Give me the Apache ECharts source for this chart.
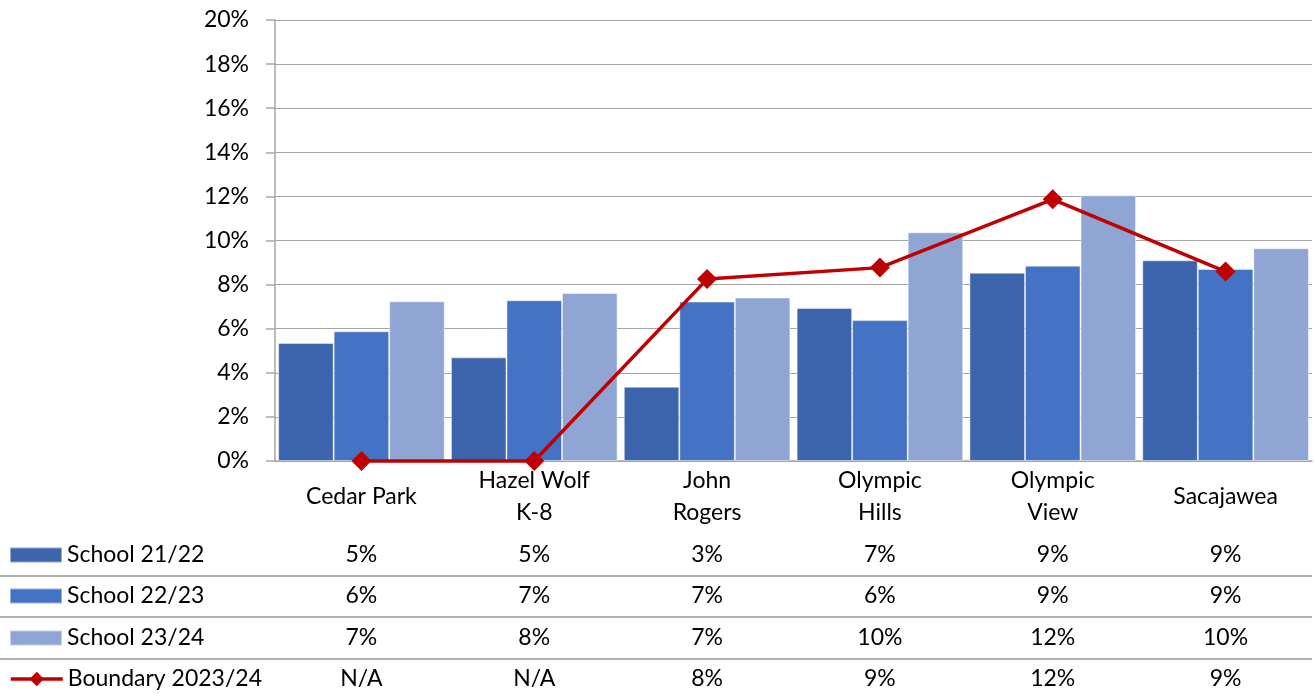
<!DOCTYPE html>
<html>
<head>
<meta charset="utf-8">
<script src="https://cdn.jsdelivr.net/npm/echarts@6/dist/echarts.min.js"></script>
<style>
html,body{margin:0;padding:0;background:#fff;}
#chart{width:1315px;height:694px;}
</style>
</head>
<body>
<div id="chart"></div>
<script>
const categories = ['Cedar Park', 'Hazel Wolf\nK-8', 'John\nRogers', 'Olympic\nHills', 'Olympic\nView', 'Sacajawea'];
const seriesNames = ['School 21/22', 'School 22/23', 'School 23/24', 'Boundary 2023/24'];
const school2122 = [5.35, 4.70, 3.37, 6.94, 8.54, 9.10];
const school2223 = [5.88, 7.29, 7.23, 6.39, 8.86, 8.71];
const school2324 = [7.24, 7.62, 7.41, 10.37, 12.05, 9.65];
const boundary2324 = [0, 0, 8.25, 8.77, 11.87, 8.59];
const tableRow2122 = ['5%', '5%', '3%', '7%', '9%', '9%'];
const tableRow2223 = ['6%', '7%', '7%', '6%', '9%', '9%'];
const tableRow2324 = ['7%', '8%', '7%', '10%', '12%', '10%'];
const tableRowBoundary = ['N/A', 'N/A', '8%', '9%', '12%', '9%'];
const yTicks = [0, 2, 4, 6, 8, 10, 12, 14, 16, 18, 20];

const FONT = 'Lato';
const FS = 23;
const colors = ['#3c64ac', '#4472c4', '#8fa5d4', '#c00000'];
const tableRows = [tableRow2122, tableRow2223, tableRow2324, tableRowBoundary];
const rowCenters = [555, 596, 638, 679];
const axisY = 461;

const chart = echarts.init(document.getElementById('chart'));

const tableAxes = tableRows.map((row, i) => ({
  type: 'category',
  gridIndex: 0,
  position: 'bottom',
  offset: rowCenters[i] - axisY,
  data: row,
  axisLine: {show: false},
  axisTick: {show: false},
  splitLine: {show: false},
  axisLabel: {interval: 0, margin: 0, verticalAlign: 'middle', fontFamily: FONT, fontSize: FS, color: '#000'}
}));

const legends = seriesNames.map((n, i) => {
  const isLine = i === 3;
  const h = isLine ? 18 : 15;
  return {
    data: isLine ? [n] : [{name: n, icon: 'rect'}],
    orient: 'horizontal',
    left: 9,
    top: rowCenters[i] - 12,
    padding: 0,
    itemWidth: 52,
    itemHeight: h,
    itemGap: 5,
    selectedMode: false,
    lineStyle: {width: 3.5},
    textStyle: {fontFamily: FONT, fontSize: FS, color: '#000', lineHeight: 24}
  };
});

const barSeries = [school2122, school2223, school2324].map((d, i) => ({
  name: seriesNames[i],
  type: 'bar',
  xAxisIndex: 0,
  data: d,
  barGap: '0%',
  barCategoryGap: '3.6%',
  itemStyle: {color: colors[i], borderColor: 'rgba(255,255,255,0.45)', borderWidth: 1},
  z: 2
}));

const option = {
  backgroundColor: '#fff',
  animation: false,
  textStyle: {fontFamily: FONT},
  legend: legends,
  grid: {left: 275, right: 3, top: 20, bottom: 694 - axisY, containLabel: false},
  xAxis: [{
    type: 'category',
    data: categories,
    axisLine: {show: true, lineStyle: {color: '#a6a6a6', width: 1.5}},
    axisTick: {show: false},
    axisLabel: {interval: 0, margin: 36, verticalAlign: 'middle', lineHeight: 32, fontFamily: FONT, fontSize: FS, color: '#000'}
  }].concat(tableAxes),
  yAxis: {
    type: 'value',
    min: yTicks[0],
    max: yTicks[yTicks.length - 1],
    interval: yTicks[1] - yTicks[0],
    axisLine: {show: true, lineStyle: {color: '#a6a6a6', width: 1.5}},
    axisTick: {show: true, length: 9, lineStyle: {color: '#a6a6a6', width: 1.5}},
    splitLine: {lineStyle: {color: '#a6a6a6', width: 1.2}},
    axisLabel: {formatter: '{value}%', margin: 26, fontFamily: FONT, fontSize: FS, color: '#000'}
  },
  graphic: [576, 617, 659].map(y => ({
    type: 'line',
    shape: {x1: 0, y1: y, x2: 1312, y2: y},
    style: {stroke: '#b0b0b0', lineWidth: 2},
    silent: true
  })),
  series: barSeries.concat([{
    name: seriesNames[3],
    type: 'line',
    xAxisIndex: 0,
    data: boundary2324,
    clip: false,
    symbol: 'diamond',
    symbolSize: 20,
    lineStyle: {color: colors[3], width: 3.5},
    itemStyle: {color: colors[3]},
    z: 5
  }])
};

chart.setOption(option);
</script>
</body>
</html>
